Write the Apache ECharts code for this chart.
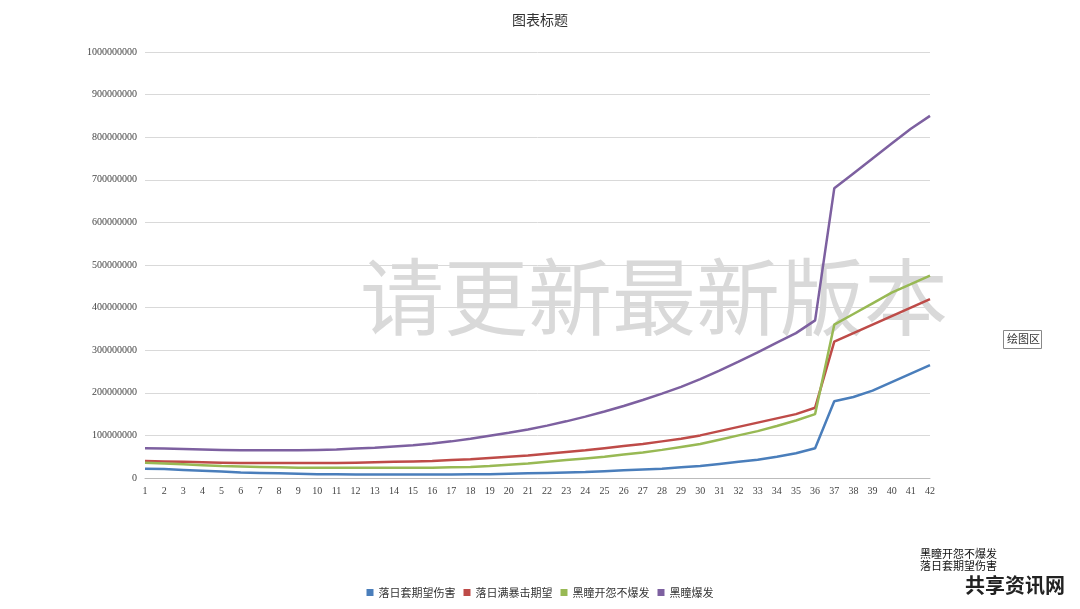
<!DOCTYPE html>
<html><head><meta charset="utf-8">
<script src="https://cdn.jsdelivr.net/npm/echarts@6/dist/echarts.min.js"></script>
<style>html,body{margin:0;background:#fff}#c{width:1080px;height:609px}</style>
</head><body><div id="c"></div>
<script>
const categories = Array.from({length:42},(_,i)=>String(i+1));
const yTicks = [0,100000000,200000000,300000000,400000000,500000000,600000000,700000000,800000000,900000000,1000000000];
const blue = [22,21,19,17,15,13,12,11,10,9,9,8,8,8,8,8,8,9,9,10,11,12,13,14,16,18,20,22,25,28,33,38,43,50,58,70,180,190,205,225,245,265].map(v=>v*1e6);
const red = [40,39,38,37,36,35,35,35,35,35,35,36,37,38,39,40,42,44,47,50,53,57,61,65,70,75,80,86,92,100,110,120,130,140,150,165,320,340,360,380,400,420].map(v=>v*1e6);
const green = [36,34,32,30,28,27,26,25,24,24,24,24,24,24,24,24,25,26,28,31,34,38,42,46,50,55,60,66,73,80,90,100,110,122,135,150,360,385,410,435,455,475].map(v=>v*1e6);
const purple = [70,69,68,67,66,65,65,65,65,66,67,69,71,74,77,81,86,92,99,106,114,123,133,144,156,169,183,198,214,232,252,273,295,318,340,370,680,715,750,785,820,850].map(v=>v*1e6);
const names = ['落日套期望伤害','落日满暴击期望','黑瞳开怨不爆发','黑瞳爆发'];
const colors = ['#4a7ebb','#be4b48','#98b954','#7d60a0'];
const chart = echarts.init(document.getElementById('c'));
chart.setOption({
  animation:false,
  title:{text:'图表标题',left:'center',top:8,textStyle:{fontSize:14,fontWeight:'normal',color:'#333',fontFamily:'Noto Sans CJK SC'}},
  color:colors,
  legend:{bottom:6,left:'center',itemWidth:7,itemHeight:7,icon:'rect',textStyle:{fontSize:11,color:'#333',fontFamily:'Noto Sans CJK SC'},data:names},
  grid:{left:145,right:150,top:52,bottom:131},
  xAxis:{type:'category',data:categories,boundaryGap:false,axisLine:{lineStyle:{color:'#bbb'}},axisTick:{show:false},
    axisLabel:{fontSize:10,color:'#444',fontFamily:'Liberation Serif',interval:0}},
  yAxis:{type:'value',min:0,max:1000000000,interval:100000000,axisLine:{show:false},axisTick:{show:false},
    axisLabel:{fontSize:10,color:'#444',fontFamily:'Liberation Serif',formatter:v=>String(v)},splitLine:{lineStyle:{color:'#d9d9d9'}}},
  graphic:[
    {type:'text',left:360,top:255,z:0,style:{text:'请更新最新版本',fontSize:84,fill:'rgba(180,180,180,0.5)',fontFamily:'Noto Sans CJK SC'}},
    {type:'rect',left:1003,top:330,shape:{width:38,height:18},style:{fill:'#fff',stroke:'#888'}},
    {type:'text',left:1007,top:333,style:{text:'绘图区',fontSize:11,fill:'#333',fontFamily:'Noto Sans CJK SC'}},
    {type:'text',left:920,top:548,style:{text:'黑瞳开怨不爆发\n落日套期望伤害',fontSize:11,fill:'#111',lineHeight:12,fontFamily:'Noto Sans CJK SC'}},
    {type:'text',left:965,top:575,style:{text:'共享资讯网',fontSize:20,fontWeight:'bold',fill:'#222',fontFamily:'Noto Sans CJK SC'}}
  ],
  series:[blue,red,green,purple].map((d,i)=>({name:names[i],type:'line',data:d,symbol:'none',lineStyle:{width:2.5}}))
});
</script></body></html>
